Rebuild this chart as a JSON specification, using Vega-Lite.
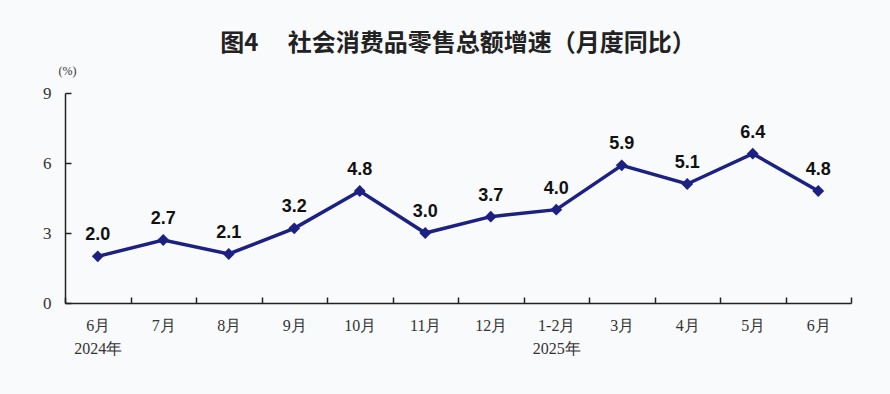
{
  "$schema": "https://vega.github.io/schema/vega-lite/v6.json",
  "autosize": "none",
  "width": 786,
  "height": 210,
  "padding": {"left": 65, "top": 93, "right": 39, "bottom": 91},
  "background": "#f9fafc",
  "title": {
    "text": "图4　 社会消费品零售总额增速（月度同比）",
    "anchor": "middle",
    "font": "Noto Sans CJK SC",
    "fontSize": 24,
    "fontWeight": "bold",
    "color": "#222222",
    "offset": 8
  },
  "config": {"view": {"stroke": null}},
  "data": {
    "values": [
      {"month": "6月|2024年", "value": 2.0},
      {"month": "7月", "value": 2.7},
      {"month": "8月", "value": 2.1},
      {"month": "9月", "value": 3.2},
      {"month": "10月", "value": 4.8},
      {"month": "11月", "value": 3.0},
      {"month": "12月", "value": 3.7},
      {"month": "1-2月|2025年", "value": 4.0},
      {"month": "3月", "value": 5.9},
      {"month": "4月", "value": 5.1},
      {"month": "5月", "value": 6.4},
      {"month": "6月", "value": 4.8}
    ]
  },
  "encoding": {
    "x": {
      "field": "month",
      "type": "ordinal",
      "sort": null,
      "scale": {"paddingInner": 0, "paddingOuter": 0},
      "axis": {
        "title": null,
        "labelAngle": 0,
        "labelExpr": "isValid(datum.value) ? split(datum.value, '|') : ''",
        "labelFont": "Liberation Serif",
        "labelFontSize": 16,
        "labelColor": "#333333",
        "labelLineHeight": 23,
        "labelPadding": 20,
        "tickBand": "extent",
        "tickSize": -6,
        "tickColor": "#222222",
        "tickWidth": 1.5,
        "domainColor": "#222222",
        "domainWidth": 1.5
      }
    },
    "y": {
      "field": "value",
      "type": "quantitative",
      "scale": {"domain": [0, 9], "nice": false},
      "axis": {
        "values": [0, 3, 6, 9],
        "grid": false,
        "title": "(%)",
        "titleAngle": 0,
        "titleX": 2,
        "titleY": -23,
        "titleAlign": "center",
        "titleBaseline": "middle",
        "titleFont": "Liberation Serif",
        "titleFontSize": 12,
        "titleFontWeight": "normal",
        "titleColor": "#333333",
        "labelFont": "Liberation Serif",
        "labelFontSize": 17,
        "labelColor": "#333333",
        "labelPadding": 20,
        "tickSize": -6,
        "tickColor": "#222222",
        "tickWidth": 1.5,
        "domainColor": "#222222",
        "domainWidth": 1.5
      }
    }
  },
  "layer": [
    {
      "mark": {"type": "line", "color": "#1c2082", "strokeWidth": 3.5},
      "encoding": {}
    },
    {
      "mark": {"type": "point", "shape": "diamond", "filled": true, "size": 140, "color": "#1c2082", "opacity": 1},
      "encoding": {}
    },
    {
      "mark": {"type": "text", "dy": -21, "font": "Liberation Sans", "fontSize": 18, "fontWeight": "bold", "color": "#111111"},
      "encoding": {"text": {"field": "value", "type": "quantitative", "format": ".1f"}}
    }
  ]
}
